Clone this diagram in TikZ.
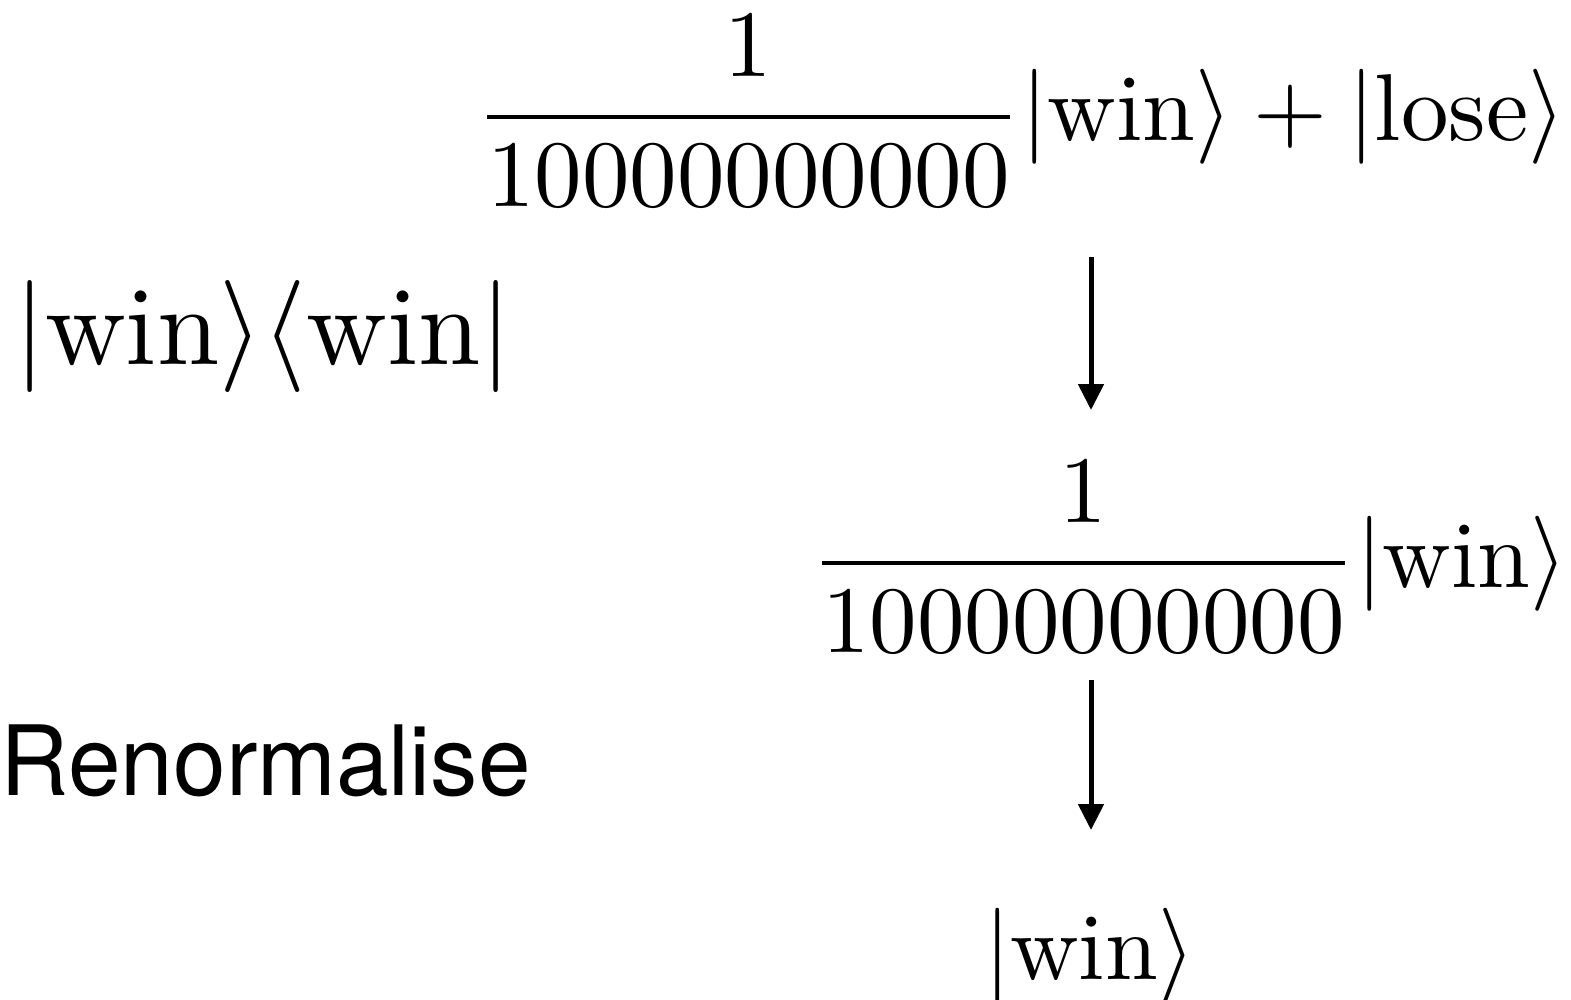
\documentclass[tikz,border=0pt]{standalone}
\usepackage{amsmath}
\usepackage{fontspec}
\newfontfamily\labelsans{TeX Gyre Heros}
\usetikzlibrary{arrows.meta}
\begin{document}
\begin{tikzpicture}[x=1pt,y=-1pt,
  plain/.style={inner sep=0pt, outer sep=0pt, anchor=base west},
  eq/.style={plain, scale=9.5},
  bigeq/.style={plain, scale=11.2},
  flow/.style={line width=5pt, -{Triangle[width=25pt,length=26pt]}}]
\useasboundingbox (0,0) rectangle (1571,1000);

% states
\node[eq] (prior) at (476,141)
  {$\dfrac{1}{10000000000}|\mathrm{win}\rangle+|\mathrm{lose}\rangle$};
\node[eq] (proj) at (811,587)
  {$\dfrac{1}{10000000000}|\mathrm{win}\rangle$};
\node[eq] (final) at (984,979) {$|\mathrm{win}\rangle$};

% operation labels
\node[bigeq] (projector) at (14,364)
  {$|\mathrm{win}\rangle\langle\mathrm{win}|$};
\node[plain, xscale=0.975] (renorm) at (1,795)
  {\labelsans\fontsize{97}{97}\selectfont Renormalise};

% steps
\coordinate (s1) at (1091,257);
\coordinate (t1) at (1091,410);
\coordinate (s2) at (1091,680);
\coordinate (t2) at (1091,830);
\draw[flow] (s1) -- (t1);
\draw[flow] (s2) -- (t2);
\end{tikzpicture}
\end{document}
